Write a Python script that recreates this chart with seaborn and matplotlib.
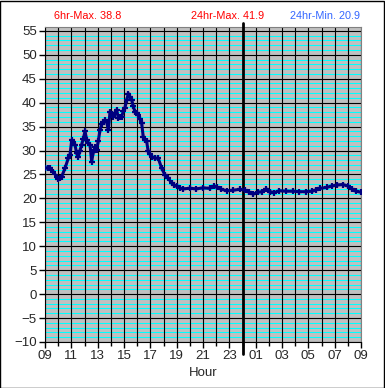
import pandas as pd
import seaborn as sns
from matplotlib import pyplot as plt
from matplotlib.ticker import MultipleLocator
from matplotlib.patches import Rectangle

# hours after 09:00, temperature
hours = [0.0, 0.2, 0.38, 0.63, 0.88, 1.0, 1.13, 1.26, 1.52, 1.77, 1.9, 2.03, 2.15, 2.28, 2.4, 2.53,
         2.66, 2.78, 2.91, 3.04, 3.17, 3.29, 3.42, 3.54, 3.67, 3.8, 3.92, 4.05, 4.18, 4.3, 4.43,
         4.56, 4.68, 4.81, 4.94, 5.07, 5.19, 5.32, 5.44, 5.57, 5.7, 5.82, 5.95, 6.07, 6.2, 6.33,
         6.45, 6.58, 6.7, 6.83, 6.96, 7.09, 7.21, 7.34, 7.46, 7.59, 7.72, 7.84, 7.97, 8.1, 8.35,
         8.6, 8.86, 9.11, 9.36, 9.62, 9.8, 10.0, 10.25, 10.5, 11.0, 11.5, 12.0, 12.5, 12.8, 13.1,
         13.4, 13.8, 14.3, 14.8, 15.2, 15.5, 15.8, 16.2, 16.5, 16.8, 17.1, 17.4, 17.8, 18.3, 18.8,
         19.3, 19.8, 20.3, 20.6, 20.9, 21.4, 21.8, 22.2, 22.6, 23.0, 23.3, 23.6, 24.0]
temps = [26.3, 26.4, 26.3, 25.6, 24.5, 24.0, 24.2, 24.5, 26.3, 28.4, 29.1, 32.2, 31.8, 31.2, 29.4, 28.7,
         30.0, 31.2, 32.5, 34.0, 32.2, 31.6, 31.2, 27.7, 29.6, 30.8, 30.1, 32.0, 34.3, 35.5, 36.0,
         36.4, 36.0, 34.3, 38.1, 37.6, 37.1, 37.9, 38.5, 36.8, 37.0, 37.1, 38.2, 38.9, 40.5, 41.9,
         41.2, 40.6, 39.3, 38.1, 37.8, 37.4, 36.6, 35.7, 32.9, 32.2, 31.9, 29.8, 29.2, 28.7, 28.4,
         28.4, 26.3, 24.9, 24.2, 23.2, 22.8, 22.5, 22.1, 22.0, 22.1, 22.0, 22.2, 22.1, 22.5, 22.3,
         21.9, 21.6, 21.7, 21.9, 21.7, 21.3, 20.9, 21.3, 21.4, 22.0, 21.4, 21.2, 21.6, 21.5, 21.5,
         21.4, 21.4, 21.5, 21.8, 22.1, 22.3, 22.6, 22.8, 22.9, 22.6, 22.0, 21.5, 21.3]

hour_labels = ['09', '11', '13', '15', '17', '19', '21', '23', '01', '03', '05', '07', '09']
header = [('6hr-Max. 38.8', '#ff0000'), ('24hr-Max. 41.9', '#ff0000'), ('24hr-Min. 20.9', '#3366ff')]

data = pd.DataFrame({'Hour': hours, 'Temp': temps})

sns.set_style('ticks', {'axes.facecolor': '#c0c0c0'})
plt.rcParams['font.family'] = ['Liberation Sans', 'DejaVu Sans']

fig = plt.figure(figsize=(3.85, 3.88), dpi=100)
ax = fig.add_axes([45 / 385, 46 / 388, 316 / 385, 315 / 388])

ax.set_xlim(0, 24)
ax.set_ylim(-10, 55.8)
ax.xaxis.set_major_locator(MultipleLocator(2))
ax.xaxis.set_minor_locator(MultipleLocator(1))
ax.yaxis.set_major_locator(MultipleLocator(5))
ax.yaxis.set_minor_locator(MultipleLocator(1))
ax.set_xticks(range(0, 25, 2), hour_labels)

ax.grid(which='minor', axis='y', color='#00ffff', lw=0.75)
ax.grid(which='major', axis='y', color='black', lw=0.8)
ax.grid(which='both', axis='x', color='black', lw=0.8)
ax.set_axisbelow(True)
# vertical black lines sit over the cyan ones
ax.yaxis.set_zorder(0.4)
ax.xaxis.set_zorder(0.6)

ax.axvline(15, ymin=-0.038, ymax=1.012, color='black', lw=2, clip_on=False, zorder=3)

sns.lineplot(x='Hour', y='Temp', data=data, ax=ax, color='#000080', lw=2.2,
             marker='+', markersize=5, markeredgewidth=1.6, markeredgecolor='#000080', zorder=4)

ax.tick_params(axis='both', which='major', length=4, width=1, color='black', labelsize=9.5, pad=2)
ax.tick_params(axis='x', which='minor', length=3, width=1, color='black')
ax.tick_params(axis='y', which='minor', length=0)
ax.set_xlabel('Hour', fontsize=9.5, labelpad=3)
ax.set_ylabel('')
for s in ['top', 'right']:
    ax.spines[s].set_color('#808080')
for s in ['left', 'bottom']:
    ax.spines[s].set_color('black')

for (txt, col), xc in zip(header, [88, 228, 325]):
    fig.text(xc / 385, 1 - 16 / 388, txt, color=col, fontsize=7.8, ha='center', va='center')

fig.patches.append(Rectangle((0.001, 0.001), 0.997, 0.997, transform=fig.transFigure,
                             fill=False, edgecolor='black', lw=1))

plt.savefig('out.png', dpi=100)
